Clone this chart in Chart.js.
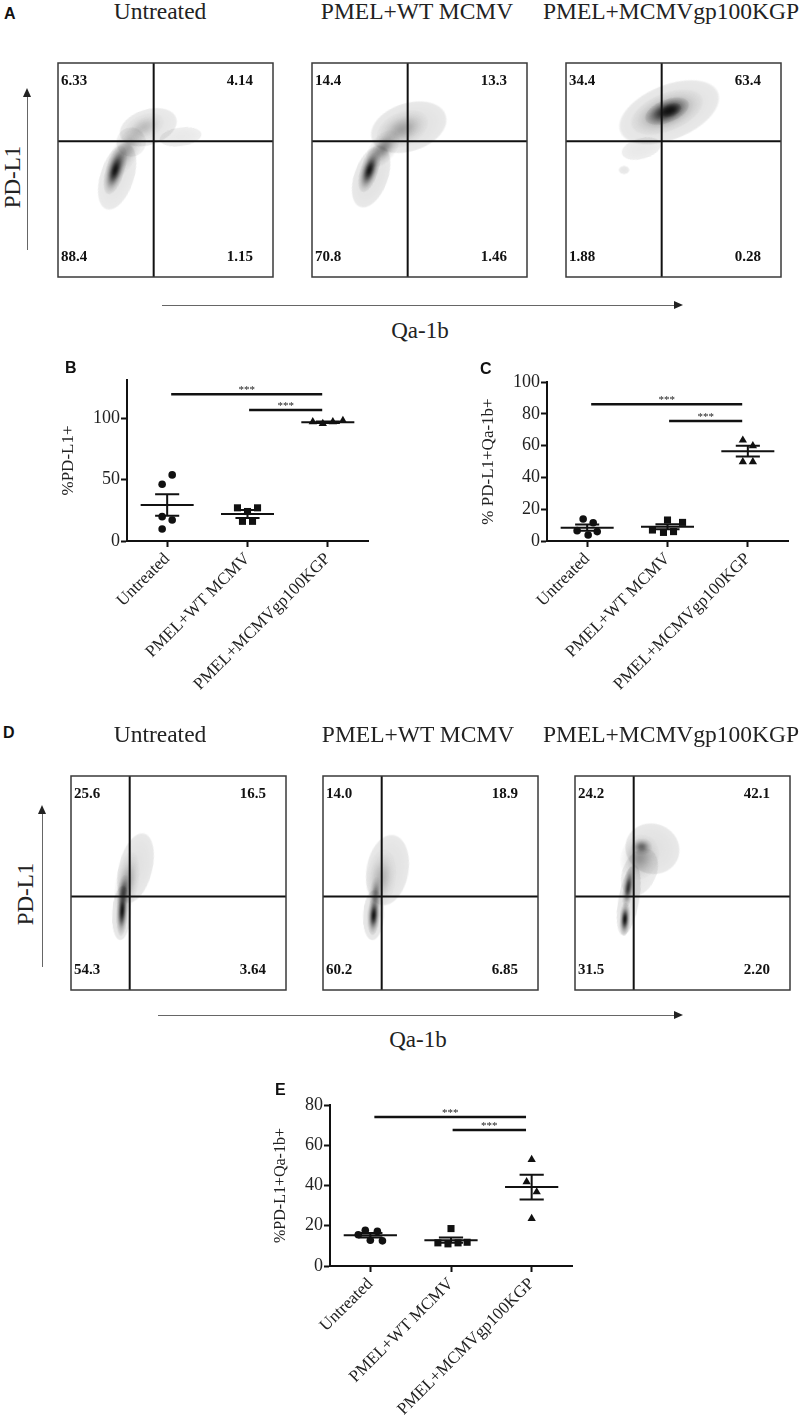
<!DOCTYPE html>
<html>
<head>
<meta charset="utf-8">
<script src="https://cdn.jsdelivr.net/npm/chart.js@4.4.0/dist/chart.umd.min.js"></script>
<style>
body { margin: 0; background: #fff; }
#page { position: relative; width: 807px; height: 1425px; overflow: hidden; font-family: "Liberation Serif", "Times New Roman", serif; color: #222; }
.abs { position: absolute; }
.letter { font-family: "Liberation Sans", Arial, sans-serif; font-weight: bold; font-size: 16px; line-height: 1; color: #111; }
.title { font-size: 23.5px; line-height: 1; white-space: nowrap; transform: translateX(-50%); }
.vlabel { font-size: 23px; line-height: 1; white-space: nowrap; transform: translate(-50%, -50%) rotate(-90deg); }
.hlabel { font-size: 23px; line-height: 1; white-space: nowrap; transform: translateX(-50%); }
.line { position: absolute; background: #666; }
.headUp { position: absolute; width: 0; height: 0; border-left: 4px solid transparent; border-right: 4px solid transparent; border-bottom: 9px solid #222; }
.headRight { position: absolute; width: 0; height: 0; border-top: 4px solid transparent; border-bottom: 4px solid transparent; border-left: 9px solid #222; }
canvas { position: absolute; }
</style>
</head>
<body>
<div id="page">
  <div class="letter abs" style="left:4px;top:6px">A</div>
  <div class="title abs" style="left:160px;top:0px">Untreated</div>
  <div class="title abs" style="left:417px;top:0px">PMEL+WT MCMV</div>
  <div class="title abs" style="left:671px;top:0px">PMEL+MCMVgp100KGP</div>
  <div class="vlabel abs" style="left:12px;top:177px">PD-L1</div>
  <div class="line" style="left:27px;top:97px;width:1px;height:153px"></div>
  <div class="headUp" style="left:23px;top:88px"></div>
  <div class="line" style="left:162px;top:305px;width:513px;height:1px"></div>
  <div class="headRight" style="left:674px;top:301px"></div>
  <div class="hlabel abs" style="left:420px;top:319px">Qa-1b</div>
  <canvas id="fA0" width="227" height="226" style="left:52px;top:57px"></canvas>
  <canvas id="fA1" width="227" height="226" style="left:306px;top:57px"></canvas>
  <canvas id="fA2" width="227" height="226" style="left:560px;top:57px"></canvas>

  <canvas id="cB" width="360" height="370" style="left:40px;top:355px"></canvas>
  <canvas id="cC" width="347" height="370" style="left:460px;top:355px"></canvas>
  <div class="letter abs" style="left:65px;top:360px">B</div>
  <div class="letter abs" style="left:480px;top:361px">C</div>

  <div class="letter abs" style="left:3px;top:725px">D</div>
  <div class="title abs" style="left:160px;top:723px">Untreated</div>
  <div class="title abs" style="left:418px;top:723px">PMEL+WT MCMV</div>
  <div class="title abs" style="left:671px;top:723px">PMEL+MCMVgp100KGP</div>
  <div class="vlabel abs" style="left:25px;top:894px">PD-L1</div>
  <div class="line" style="left:42px;top:813px;width:1px;height:154px"></div>
  <div class="headUp" style="left:38px;top:805px"></div>
  <div class="line" style="left:158px;top:1015px;width:517px;height:1px"></div>
  <div class="headRight" style="left:674px;top:1011px"></div>
  <div class="hlabel abs" style="left:418px;top:1028px">Qa-1b</div>
  <canvas id="fD0" width="227" height="226" style="left:65px;top:770px"></canvas>
  <canvas id="fD1" width="227" height="226" style="left:317px;top:770px"></canvas>
  <canvas id="fD2" width="227" height="226" style="left:569px;top:770px"></canvas>

  <canvas id="cE" width="370" height="345" style="left:250px;top:1080px"></canvas>
  <div class="letter abs" style="left:275px;top:1082px">E</div>
</div>

<script>
// ---- data ----
const groups = ['Untreated', 'PMEL+WT MCMV', 'PMEL+MCMVgp100KGP'];

// quadrant gates (Qa-1b, PD-L1) on a 0-100 display scale
const gateA = [44.5, 63.4];
const gateD = [27.3, 43.7];

// quadrant percentages: [UL, UR, LL, LR]
const quadA = [['6.33', '4.14', '88.4', '1.15'], ['14.4', '13.3', '70.8', '1.46'], ['34.4', '63.4', '1.88', '0.28']];
const quadD = [['25.6', '16.5', '54.3', '3.64'], ['14.0', '18.9', '60.2', '6.85'], ['24.2', '42.1', '31.5', '2.20']];

// density clusters: [x, y, spreadX, spreadY, tilt deg, peak, falloff]
const densA_untreated = [
  [27.5, 47, 8, 16.5, 18, 0.11, 0.3],
  [42, 70, 14, 8.5, -18, 0.11, 0.3],
  [57, 65.5, 10, 4.5, -8, 0.09, 0.3],
  [34, 63, 7, 7, 0, 0.08, 0.3],
  [31, 58, 6, 14, 30, 0.3, 3],
  [40, 70, 10, 6, -25, 0.18, 3],
  [26.6, 50, 4.5, 12, 17, 0.95, 3]
];
const densA_wt = [
  [27.5, 47, 8, 15.5, 20, 0.12, 0.3],
  [45, 70, 18.5, 11.5, -18, 0.12, 0.3],
  [42, 69, 13, 8, -25, 0.3, 3],
  [33, 60, 6, 10, 38, 0.45, 3],
  [26.7, 50, 4.3, 11, 18, 0.95, 3]
];
const densA_kgp = [
  [48, 77, 25, 13, -22, 0.12, 0.3],
  [35, 60, 9.5, 5, -15, 0.09, 0.3],
  [27, 50, 2.5, 2, 0, 0.1, 0.3],
  [47, 77, 18, 9, -22, 0.45, 3],
  [47, 77.5, 11, 5.5, -22, 0.85, 2.5],
  [49, 78, 5, 3, -22, 0.7, 2]
];
const densD_untreated = [
  [23.5, 36, 4.5, 13, 3, 0.12, 0.3],
  [30, 57, 8, 17, 14, 0.12, 0.3],
  [26, 50, 5.5, 15, 10, 0.3, 3],
  [24.5, 46, 3, 8, 6, 0.6, 3],
  [23.8, 37, 2.8, 12, 3, 0.95, 3]
];
const densD_wt = [
  [23.5, 35, 5, 12, 3, 0.12, 0.3],
  [30, 56, 10, 17, 10, 0.12, 0.3],
  [27, 52, 7, 14, 8, 0.22, 3],
  [24.5, 45, 3, 8, 5, 0.45, 3],
  [23.6, 35, 3, 9.5, 4, 0.95, 3]
];
const densD_kgp = [
  [36, 66, 13, 12, 20, 0.12, 0.3],
  [25, 42, 5, 17, 10, 0.12, 0.3],
  [30, 55, 8, 12, 25, 0.1, 0.3],
  [30, 62, 9, 11, 20, 0.3, 3],
  [31, 67, 5, 4, 0, 0.5, 3],
  [24.8, 48, 2.6, 10, 8, 0.8, 3],
  [23.2, 33, 2.6, 8, 3, 0.95, 3]
];

// B: %PD-L1+
const pdl1B = [[53.8, 46.2, 17.1, 9.8, 19.8], [27, 27, 24, 16, 16], [97, 95.5, 97, 98]];
const meanB = [29.3, 22, 96.7];
const semB = [8.8, 3.2, 0.6];
const sigB = [119.5, 106.5];

// C: % PD-L1+Qa-1b+
const dpC = [[13.8, 11.5, 6.5, 5.9, 3.8], [13.2, 11.7, 6.9, 5.4, 5.9], [63.4, 59.8, 49.8, 49.8]];
const meanC = [8.4, 9, 56.5];
const semC = [1.9, 1.6, 3.4];
const sigC = [86, 75.5];

// E: %PD-L1+Qa-1b+
const dpE = [[17.8, 17.2, 15.5, 12.8, 12.5], [18.6, 11.5, 11, 11.5, 11.8], [52.9, 41.8, 36.8, 23.6]];
const meanE = [15.3, 12.8, 39.2];
const semE = [1.1, 1.3, 6.1];
const sigE = [74, 67.6];

// ---- layout / style ----
const SERIF = '"Liberation Serif", "Times New Roman", serif';
Chart.defaults.font.family = SERIF;
Chart.defaults.color = '#222';

// horizontal spread of overlapping dots, in px
const jitB = [[5, -5, 5, -5, -5], [-10, 10, 0, -5, 5], [-15, -5, 5, 15]];
const jitC = [[-4, 6, -10, 10, 1], [0, 15, -15, -4, 6], [-5, 5, -5, 5]];
const jitE = [[-5, 7, -12, 0, 12], [0, -13, -3, 7, 16], [0, -5, 5, 0]];
const PX_PER_GROUP = 80;

function blobStyle(ctx) {
  const b = ctx.raw;
  if (!b || !ctx.chart.scales.x) return 'circle';
  const xs = ctx.chart.scales.x, ys = ctx.chart.scales.y;
  const rx = Math.abs(xs.getPixelForValue(b.sx) - xs.getPixelForValue(0));
  const ry = Math.abs(ys.getPixelForValue(0) - ys.getPixelForValue(b.sy));
  if (!isFinite(rx) || !isFinite(ry) || rx < 1 || ry < 1) return 'circle';
  const cv = document.createElement('canvas');
  cv.width = Math.ceil(rx * 2) + 2;
  cv.height = Math.ceil(ry * 2) + 2;
  const g = cv.getContext('2d');
  g.translate(cv.width / 2, cv.height / 2);
  g.scale(1, ry / rx);
  const grad = g.createRadialGradient(0, 0, 0, 0, 0, rx);
  for (let i = 0; i <= 19; i++) {
    const t = i / 20;
    grad.addColorStop(t, 'rgba(10,10,10,' + (b.w * Math.exp(-b.k * t * t)).toFixed(3) + ')');
  }
  grad.addColorStop(1, 'rgba(10,10,10,0)');
  g.fillStyle = grad;
  g.beginPath();
  g.arc(0, 0, rx, 0, Math.PI * 2);
  g.fill();
  return cv;
}

const flowFrame = {
  id: 'flowFrame',
  afterDatasetsDraw(chart, args, opts) {
    const { ctx, chartArea: a, scales: { x, y } } = chart;
    const gx = x.getPixelForValue(opts.gate[0]);
    const gy = y.getPixelForValue(opts.gate[1]);
    ctx.save();
    ctx.strokeStyle = '#111';
    ctx.lineWidth = 2;
    ctx.beginPath();
    ctx.moveTo(gx, a.top); ctx.lineTo(gx, a.bottom);
    ctx.moveTo(a.left, gy); ctx.lineTo(a.right, gy);
    ctx.stroke();
    ctx.strokeStyle = '#3a3a3a';
    ctx.lineWidth = 1.5;
    ctx.strokeRect(a.left, a.top, a.right - a.left, a.bottom - a.top);
    ctx.fillStyle = '#111';
    ctx.font = 'bold 15px ' + SERIF;
    ctx.textBaseline = 'middle';
    const q = opts.quad;
    ctx.textAlign = 'left';
    ctx.fillText(q[0], a.left + 3, a.top + 18);
    ctx.fillText(q[2], a.left + 3, a.bottom - 20);
    ctx.textAlign = 'right';
    ctx.fillText(q[1], a.right - 20, a.top + 18);
    ctx.fillText(q[3], a.right - 20, a.bottom - 20);
    ctx.restore();
  }
};

function flowChart(id, dens, gate, quad) {
  const chart = new Chart(document.getElementById(id), {
    type: 'scatter',
    data: {
      datasets: [{
        data: dens.map(d => ({ x: d[0], y: d[1], sx: d[2], sy: d[3], rot: d[4], w: d[5], k: d[6] })),
        pointStyle: blobStyle,
        pointRotation: c => (c.raw ? c.raw.rot : 0),
        pointRadius: 5
      }]
    },
    options: {
      responsive: false,
      animation: false,
      events: [],
      layout: { padding: 1 },
      plugins: { legend: { display: false }, tooltip: { enabled: false }, flowFrame: { gate, quad } },
      scales: {
        x: { type: 'linear', min: 0, max: 100, display: false },
        y: { type: 'linear', min: 0, max: 100, display: false }
      }
    },
    plugins: [flowFrame]
  });
  // second pass so the blob shapes are sized from the laid-out scales
  chart.update('none');
}

flowChart('fA0', densA_untreated, gateA, quadA[0]);
flowChart('fA1', densA_wt, gateA, quadA[1]);
flowChart('fA2', densA_kgp, gateA, quadA[2]);
flowChart('fD0', densD_untreated, gateD, quadD[0]);
flowChart('fD1', densD_wt, gateD, quadD[1]);
flowChart('fD2', densD_kgp, gateD, quadD[2]);

const GAP = { x: null, y: null };

function summarySegments(means, sems) {
  const d = [];
  means.forEach((m, i) => {
    const c = i + 1, s = sems[i];
    d.push({ x: c - 0.33, y: m }, { x: c + 0.33, y: m }, GAP,
      { x: c - 0.15, y: m + s }, { x: c + 0.15, y: m + s }, GAP,
      { x: c - 0.15, y: m - s }, { x: c + 0.15, y: m - s }, GAP,
      { x: c, y: m - s }, { x: c, y: m + s }, GAP);
  });
  return d;
}

function sigSegments(levels) {
  return [{ x: 1.05, y: levels[0] }, { x: 2.93, y: levels[0] }, GAP,
    { x: 2.02, y: levels[1] }, { x: 2.93, y: levels[1] }];
}

const stars = {
  id: 'stars',
  afterDatasetsDraw(chart, args, opts) {
    const { ctx, scales: { x, y } } = chart;
    ctx.save();
    ctx.fillStyle = '#222';
    ctx.font = '11px ' + SERIF;
    ctx.textAlign = 'center';
    ctx.textBaseline = 'alphabetic';
    [[1.05, 2.93, opts.levels[0]], [2.02, 2.93, opts.levels[1]]].forEach(([a, b, v]) => {
      ctx.fillText('***', x.getPixelForValue((a + b) / 2), y.getPixelForValue(v) - 1);
    });
    ctx.restore();
  }
};

const shapes = ['circle', 'rect', 'triangle'];
const radii = [3.8, 5, 4.8];

// canvas = [left, top, w, h]; area = [left, top, right, bottom] on the page
function dotChart(id, spec) {
  const [cl, ct, cw, ch] = spec.canvas;
  const [al, at, ar, ab] = spec.area;
  const xH = ct + ch - ab - 4;
  const padding = {
    left: al - spec.yW - cl,
    top: at - ct,
    right: cl + cw - ar,
    bottom: ct + ch - ab - xH
  };
  const datasets = spec.pts.map((vals, i) => ({
    data: vals.map((v, j) => ({ x: i + 1 + spec.jit[i][j] / PX_PER_GROUP, y: v })),
    pointStyle: shapes[i],
    pointRadius: radii[i],
    backgroundColor: '#111',
    borderWidth: 0,
    order: 0
  }));
  datasets.push({
    data: summarySegments(spec.means, spec.sems),
    showLine: true, spanGaps: false, pointRadius: 0,
    borderColor: '#111', borderWidth: 2, order: 1
  });
  datasets.push({
    data: sigSegments(spec.sig),
    showLine: true, spanGaps: false, pointRadius: 0,
    borderColor: '#111', borderWidth: 2.5, order: 1
  });
  const axisGrid = { display: true, drawOnChartArea: false, drawTicks: true, tickLength: 6, tickWidth: 2, tickColor: '#111' };
  new Chart(document.getElementById(id), {
    type: 'scatter',
    data: { datasets },
    options: {
      responsive: false,
      animation: false,
      events: [],
      layout: { padding },
      plugins: { legend: { display: false }, tooltip: { enabled: false }, stars: { levels: spec.sig } },
      scales: {
        x: {
          type: 'linear', min: 0.5, max: 3.5,
          border: { color: '#111', width: 2 },
          grid: axisGrid,
          afterBuildTicks: s => { s.ticks = groups.map((g, i) => ({ value: i + 1 })); },
          ticks: {
            autoSkip: false, minRotation: 45, maxRotation: 45, padding: 2,
            font: { size: 17 }, color: '#222',
            callback: v => groups[Math.round(v) - 1]
          },
          afterFit: s => { s.height = xH; s.paddingLeft = 0; s.paddingRight = 0; }
        },
        y: {
          type: 'linear', min: 0, max: spec.ymax,
          border: { color: '#111', width: 2 },
          grid: axisGrid,
          afterBuildTicks: s => { s.ticks = s.ticks.filter(t => t.value % spec.step === 0); },
          ticks: { stepSize: spec.step, padding: 1, font: { size: 18 }, color: '#222' },
          title: { display: true, text: spec.title, padding: 0, font: { size: spec.titleSize }, color: '#222' },
          afterFit: s => { s.width = spec.yW; s.paddingTop = 0; s.paddingBottom = 0; }
        }
      }
    },
    plugins: [stars]
  });
}

dotChart('cB', { canvas: [40, 355, 360, 370], area: [127, 380, 368, 541], yW: 69, ymax: 131, step: 50,
  title: '%PD-L1+', titleSize: 17, pts: pdl1B, means: meanB, sems: semB, jit: jitB, sig: sigB });
dotChart('cC', { canvas: [460, 355, 347, 370], area: [547, 382, 788, 541], yW: 69, ymax: 100, step: 20,
  title: '% PD-L1+Qa-1b+', titleSize: 17, pts: dpC, means: meanC, sems: semC, jit: jitC, sig: sigC });
dotChart('cE', { canvas: [250, 1080, 370, 345], area: [330, 1105, 572, 1266], yW: 59, ymax: 80, step: 20,
  title: '%PD-L1+Qa-1b+', titleSize: 16, pts: dpE, means: meanE, sems: semE, jit: jitE, sig: sigE });
</script>
</body>
</html>
